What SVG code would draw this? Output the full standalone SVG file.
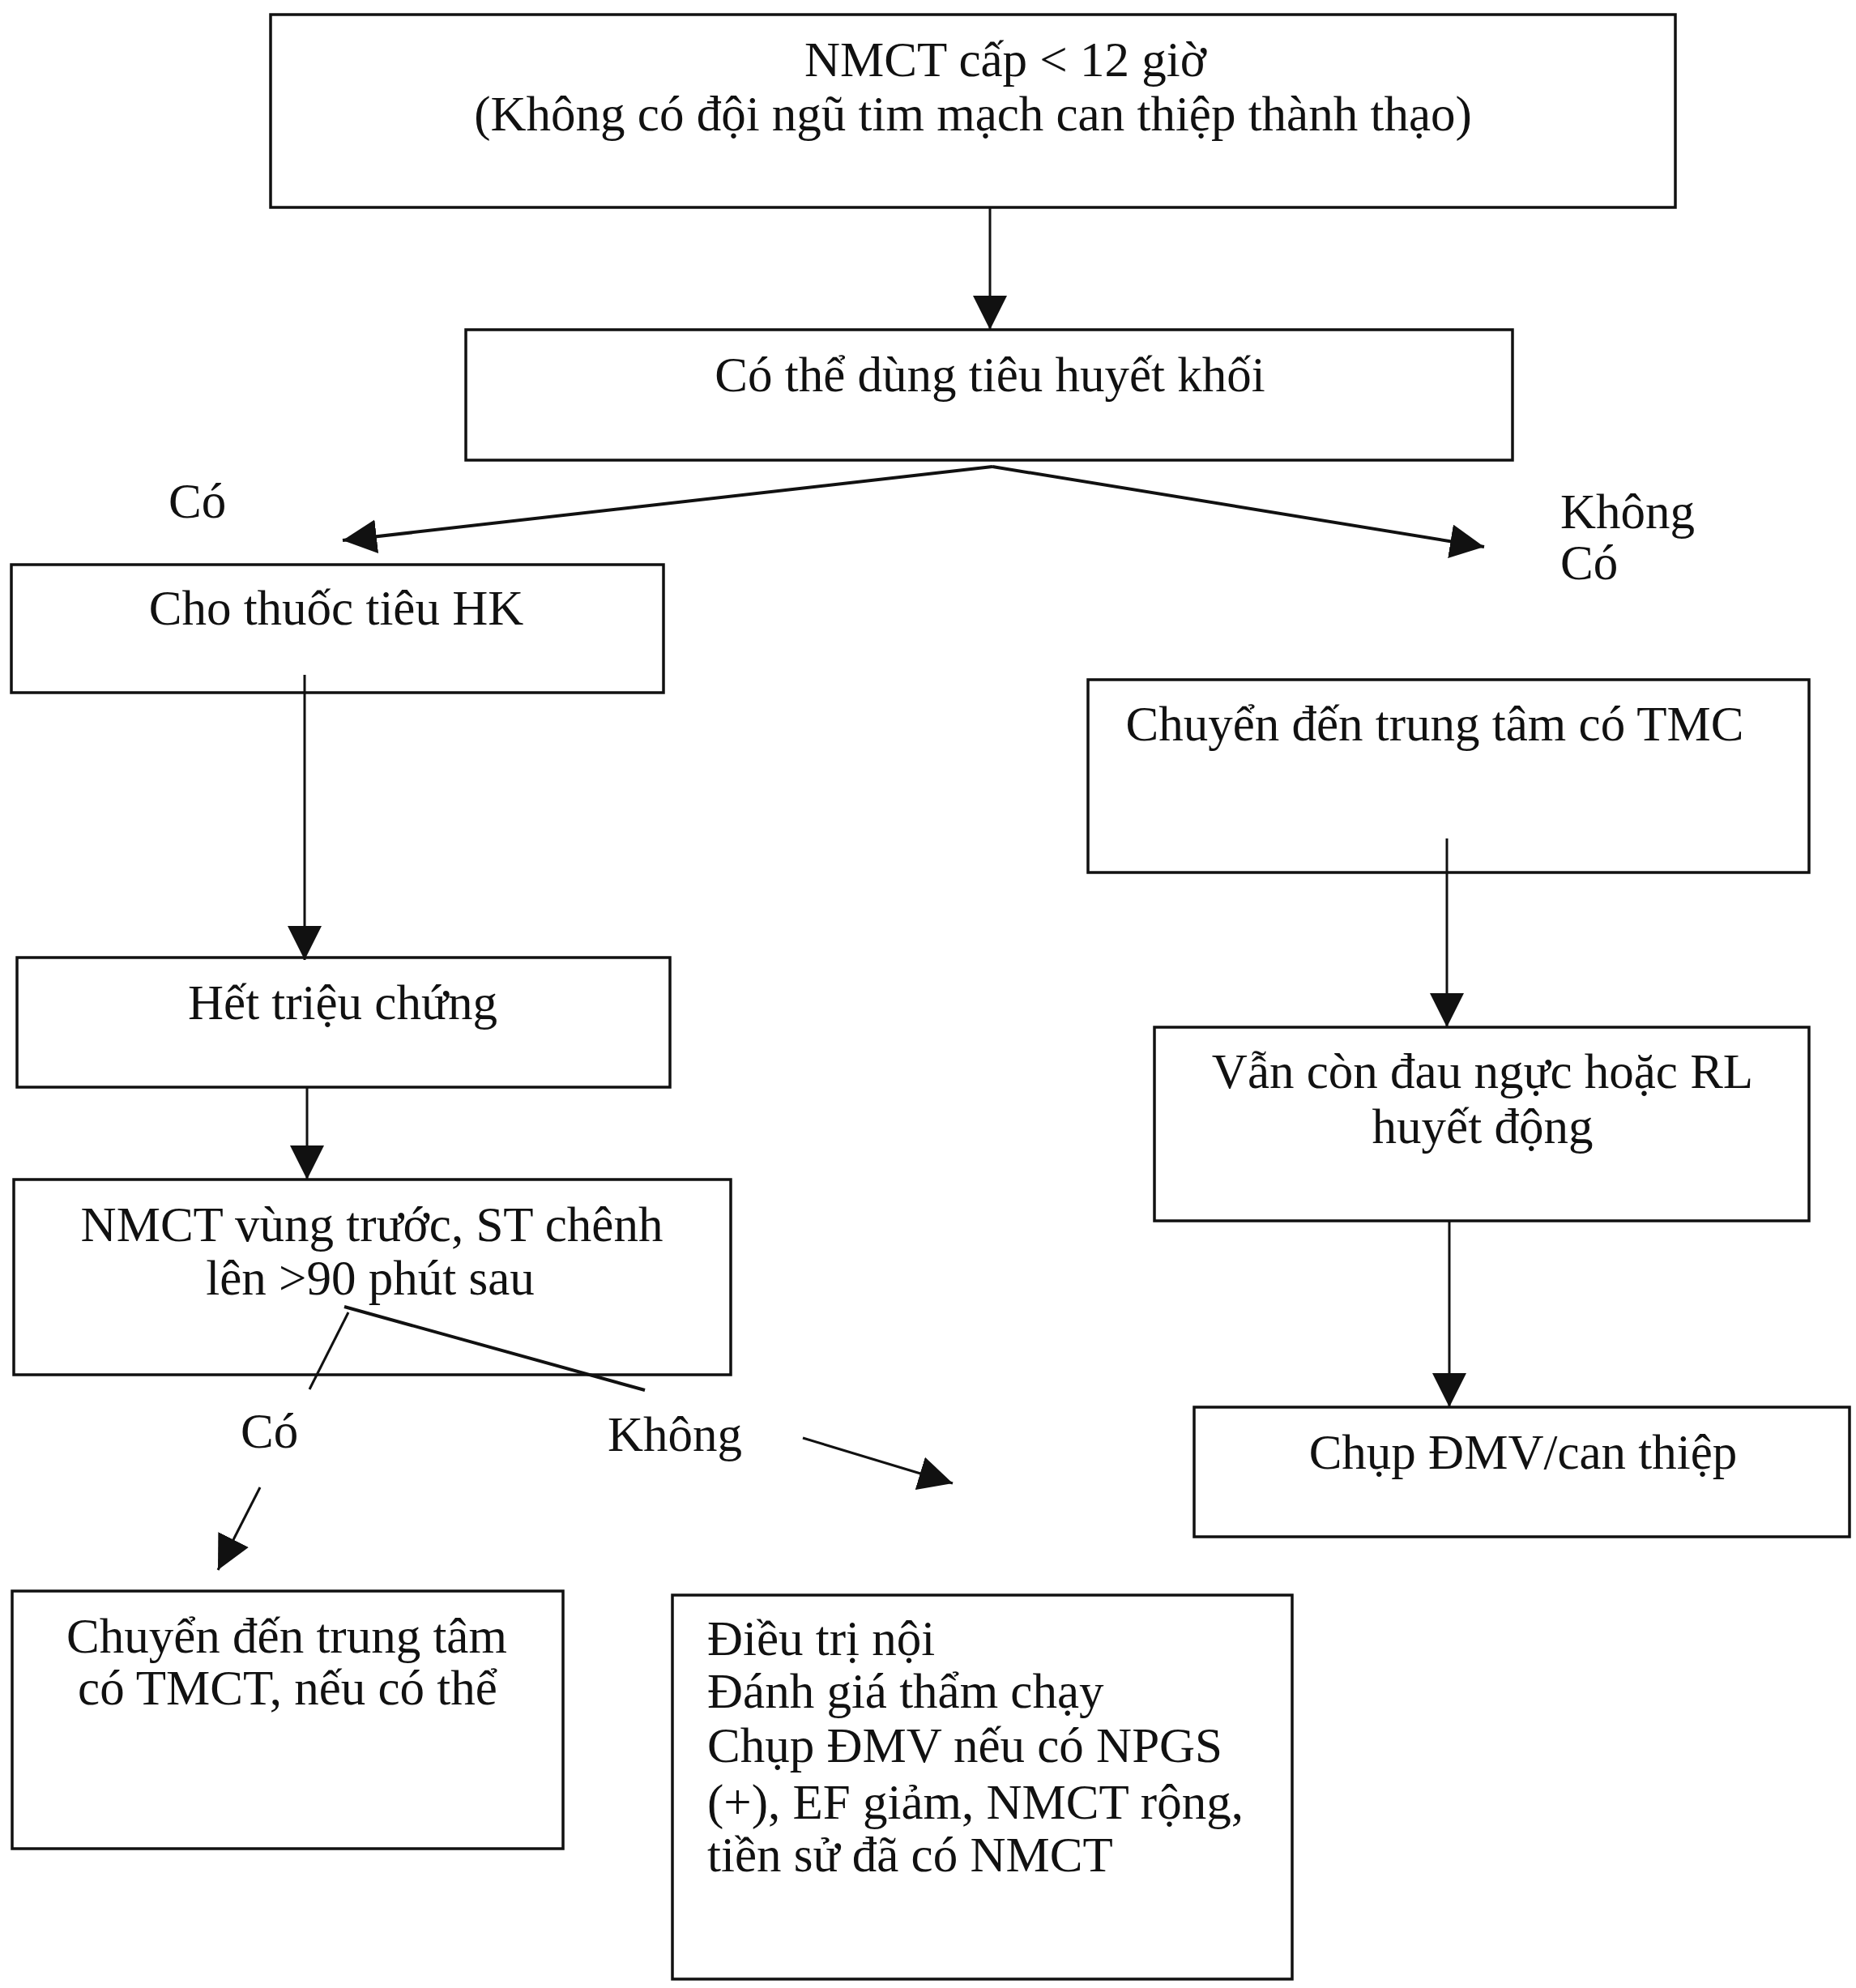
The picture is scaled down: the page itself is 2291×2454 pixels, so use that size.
<svg xmlns="http://www.w3.org/2000/svg" width="2291" height="2454" viewBox="0 0 2291 2454">
<defs>
<style>
.box{fill:none;stroke:#111;stroke-width:3.5}
.ln{fill:none;stroke:#111;stroke-width:3}
.t{font-family:"Liberation Serif","Times New Roman",serif;font-size:61px;fill:#111}
.c{text-anchor:middle}
</style>
<marker id="ah" viewBox="0 0 40 40" refX="40" refY="20" markerWidth="42" markerHeight="42" markerUnits="userSpaceOnUse" orient="auto">
<path d="M0,0 L40,20 L0,40 Z" fill="#111"/>
</marker>
</defs>
<rect width="2291" height="2454" fill="#fff"/>

<g id="n-top">
<rect class="box" x="334" y="18" width="1734" height="238"/>
<text class="t c" x="1241" y="94">NMCT cấp &lt; 12 giờ</text>
<text class="t c" x="1201" y="161">(Không có đội ngũ tim mạch can thiệp thành thạo)</text>
</g>
<g id="n-tieu">
<rect class="box" x="575" y="407" width="1292" height="161"/>
<text class="t c" x="1222" y="483">Có thể dùng tiêu huyết khối</text>
</g>
<g id="n-cho">
<rect class="box" x="14" y="697" width="805" height="158"/>
<text class="t c" x="415" y="771">Cho thuốc tiêu HK</text>
</g>
<g id="n-het">
<rect class="box" x="21" y="1182" width="806" height="160"/>
<text class="t c" x="423" y="1258">Hết triệu chứng</text>
</g>
<g id="n-nmct">
<rect class="box" x="17" y="1456" width="885" height="241"/>
<text class="t c" x="459" y="1532">NMCT vùng trước, ST chênh</text>
<text class="t c" x="457" y="1598">lên &gt;90 phút sau</text>
</g>
<g id="n-chuyen-tmct">
<rect class="box" x="15" y="1964" width="680" height="318"/>
<text class="t c" x="354" y="2040">Chuyển đến trung tâm</text>
<text class="t c" x="355" y="2104">có TMCT, nếu có thể</text>
</g>
<g id="n-dieutri">
<rect class="box" x="830" y="1969" width="765" height="474"/>
<text class="t" x="873" y="2043">Điều trị nội</text>
<text class="t" x="873" y="2108">Đánh giá thẩm chạy</text>
<text class="t" x="873" y="2175">Chụp ĐMV nếu có NPGS</text>
<text class="t" x="873" y="2245">(+), EF giảm, NMCT rộng,</text>
<text class="t" x="873" y="2310">tiền sử đã có NMCT</text>
</g>
<g id="n-chuyen-tmc">
<rect class="box" x="1343" y="839" width="890" height="238"/>
<text class="t c" x="1771" y="914">Chuyển đến trung tâm có TMC</text>
</g>
<g id="n-vancon">
<rect class="box" x="1425" y="1268" width="808" height="239"/>
<text class="t c" x="1830" y="1343">Vẫn còn đau ngực hoặc RL</text>
<text class="t c" x="1830" y="1411">huyết động</text>
</g>
<g id="n-chup">
<rect class="box" x="1474" y="1737" width="809" height="160"/>
<text class="t c" x="1880" y="1813">Chụp ĐMV/can thiệp</text>
</g>

<g id="connectors">
<line class="ln" x1="1222" y1="256" x2="1222" y2="407" marker-end="url(#ah)"/>
<line class="ln" x1="1225" y1="576" x2="423" y2="667" marker-end="url(#ah)" style="stroke-width:4"/>
<line class="ln" x1="1225" y1="576" x2="1832" y2="675" marker-end="url(#ah)" style="stroke-width:4"/>
<line class="ln" x1="376" y1="833" x2="376" y2="1185" marker-end="url(#ah)"/>
<line class="ln" x1="379" y1="1342" x2="379" y2="1456" marker-end="url(#ah)"/>
<line class="ln" x1="430" y1="1620" x2="382" y2="1715"/>
<line class="ln" x1="425" y1="1613" x2="796" y2="1716" style="stroke-width:4"/>
<line class="ln" x1="321" y1="1836" x2="269" y2="1938" marker-end="url(#ah)"/>
<line class="ln" x1="991" y1="1775" x2="1176" y2="1831" marker-end="url(#ah)"/>
<line class="ln" x1="1786" y1="1035" x2="1786" y2="1268" marker-end="url(#ah)"/>
<line class="ln" x1="1789" y1="1507" x2="1789" y2="1737" marker-end="url(#ah)"/>
</g>

<g id="labels">
<text class="t" x="208" y="639">Có</text>
<text class="t" x="1926" y="652">Không</text>
<text class="t" x="1926" y="715">Có</text>
<text class="t" x="297" y="1787">Có</text>
<text class="t" x="750" y="1791">Không</text>
</g>
</svg>
